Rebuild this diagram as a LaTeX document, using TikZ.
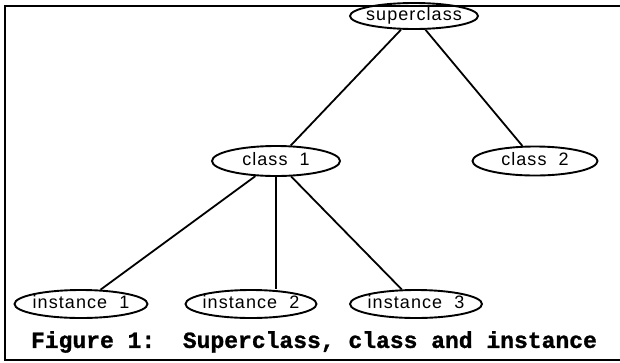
\documentclass[tikz,border=0pt]{standalone}
\usepackage{fontspec}
\setmainfont{Liberation Sans}
\newfontfamily\capfont[FakeBold=1.2]{Liberation Mono}
\usetikzlibrary{shapes.geometric}

\begin{document}
\begin{tikzpicture}[x=1pt,y=-1pt,
  cls/.style={ellipse, draw, line width=1.9pt, inner sep=0pt,
    minimum height=28pt, text height=12pt, text depth=3pt,
    font=\fontsize{18}{18}\selectfont\addfontfeature{LetterSpace=6}},
  link/.style={line width=1.8pt},
  frame/.style={line width=1.8pt}]
\useasboundingbox (0,0) rectangle (620,362);

% open frame round the figure
\draw[frame] (621,6) -- (5,6) -- (5,360) -- (621,360);

% class hierarchy
\node[cls, minimum width=128pt, minimum height=26pt] (super) at (414,16) {\makebox[0pt]{superclass}};
\node[cls, minimum width=128pt, minimum height=30pt] (c1) at (276,161) {\makebox[0pt]{class\ \ 1}};
\node[cls, minimum width=125pt, minimum height=29pt] (c2) at (535,161) {\makebox[0pt]{class\ \ 2}};
\node[cls, minimum width=133pt] (i1) at (81,304) {\makebox[0pt]{instance\ \ 1}};
\node[cls, minimum width=131pt] (i2) at (251,304) {\makebox[0pt]{instance\ \ 2}};
\node[cls, minimum width=132pt] (i3) at (416,304) {\makebox[0pt]{instance\ \ 3}};

\draw[link] (super) -- (c1);
\draw[link] (super) -- (c2);
\draw[link] (c1) -- (i1);
\draw[link] (c1.south) -- (c1.south |- i2.north);
\draw[link] (c1) -- (i3);

% caption
\node[font=\capfont\bfseries\fontsize{23}{23}\selectfont] (cap) at (314,342)
  {Figure 1:\ \ Superclass, class and instance};
\end{tikzpicture}
\end{document}
